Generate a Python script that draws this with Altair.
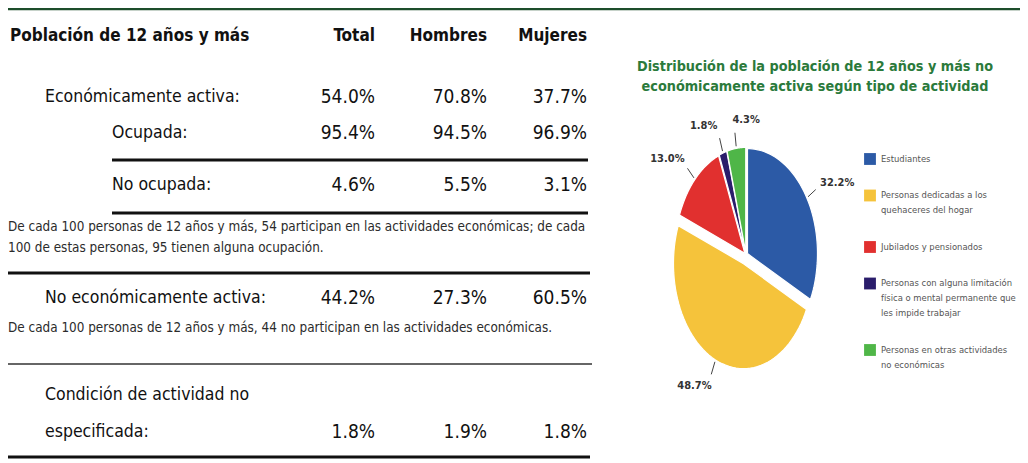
import altair as alt
import pandas as pd

# ---------------- data ----------------
encabezado = "Población de 12 años y más"
columnas = ["Total", "Hombres", "Mujeres"]
filas = [
    "Económicamente activa:",
    "Ocupada:",
    "No ocupada:",
    "No económicamente activa:",
    "Condición de actividad no\nespecificada:",
]
total = [54.0, 95.4, 4.6, 44.2, 1.8]
hombres = [70.8, 94.5, 5.5, 27.3, 1.9]
mujeres = [37.7, 96.9, 3.1, 60.5, 1.8]
nota_activa = [
    "De cada 100 personas de 12 años y más, 54 participan en las actividades económicas; de cada",
    "100 de estas personas, 95 tienen alguna ocupación.",
]
nota_no_activa = [
    "De cada 100 personas de 12 años y más, 44 no participan en las actividades económicas.",
]

titulo_pie = [
    "Distribución de la población de 12 años y más no",
    "económicamente activa según tipo de actividad",
]
tipos = [
    "Estudiantes",
    "Personas dedicadas a los\nquehaceres del hogar",
    "Jubilados y pensionados",
    "Personas con alguna limitación\nfísica o mental permanente que\nles impide trabajar",
    "Personas en otras actividades\nno económicas",
]
porcentajes = [32.2, 48.7, 13.0, 1.8, 4.3]

# ---------------- styles / layout ----------------
colores = ["#2c5aa6", "#f5c33b", "#e1302f", "#2a1d6b", "#4fb648"]
FUENTE = "DejaVu Sans Condensed, Liberation Sans Narrow, sans-serif"
M = 8  # page margin


def X(v):
    return max(v - M, 0)


def Y(v):
    return v - M


uno = pd.DataFrame({"k": [0]})
capas = []


def texto(t, x, y, size, align="left", weight="normal", color="#111", baseline="middle"):
    return alt.Chart(pd.DataFrame({"t": [t]})).mark_text(
        align=align, baseline=baseline, font=FUENTE, fontSize=size,
        fontWeight=weight, color=color,
    ).encode(x=alt.value(X(x)), y=alt.value(Y(y)), text="t:N")


def regla(x1, x2, y, w, color):
    return alt.Chart(uno).mark_rule(color=color, strokeWidth=w).encode(
        x=alt.value(X(x1)), x2=alt.value(X(x2)), y=alt.value(Y(y))
    )


# top green band
capas.append(alt.Chart(uno).mark_rule(color="#1d4d2b", strokeWidth=3.5).encode(
    x=alt.value(0), x2=alt.value(1012), y=alt.value(0.5)))

# ---------------- table ----------------
col_x = [375, 487, 587]
fila_y = [97, 133, 185, 298, 432]
fila_x = [45, 112, 112, 45, 45]
TAM_LAB = 17.5
TAM_VAL = 19
TAM_ENC = 17

capas.append(texto(encabezado, 10, 36, TAM_ENC, weight="bold"))
for c, cx in zip(columnas, col_x):
    capas.append(texto(c, cx, 36, TAM_ENC, align="right", weight="bold"))

valores = list(zip(total, hombres, mujeres))
for i, etiqueta in enumerate(filas):
    lineas = etiqueta.split("\n")
    n = len(lineas)
    for j, ln in enumerate(lineas):
        capas.append(texto(ln, fila_x[i], fila_y[i] - (n - 1 - j) * 37, TAM_LAB))
    for v, cx in zip(valores[i], col_x):
        capas.append(texto(f"{v:.1f}%", cx, fila_y[i], TAM_VAL, align="right"))

for j, ln in enumerate(nota_activa):
    capas.append(texto(ln, 2, 227 + 21 * j, 13.4, color="#2b2b2b"))
for j, ln in enumerate(nota_no_activa):
    capas.append(texto(ln, 2, 328 + 21 * j, 13.4, color="#2b2b2b"))

capas += [
    regla(112, 588, 160, 3, "#111"),
    regla(112, 588, 213, 3, "#111"),
    regla(0, 590, 273, 3, "#111"),
    regla(0, 592, 364, 2, "#666"),
    regla(0, 590, 457, 3, "#111"),
]

# ---------------- pie title ----------------
for j, ln in enumerate(titulo_pie):
    capas.append(texto(ln, 815, 67 + 20 * j, 14.3, align="center", weight="bold", color="#2b7a3b"))

# ---------------- pie (elliptical, exploded) ----------------
CX, CY, RA, RB = 746, 255, 70, 105
xs = alt.Scale(domain=[-1, 1], range=[CX - RA - M, CX + RA - M], nice=False, zero=False)
ys = alt.Scale(domain=[-1, 1], range=[CY + RB - M, CY - RB - M], nice=False, zero=False)
cs = alt.Scale(domain=tipos, range=colores)

pie_df = pd.DataFrame({"tipo": tipos, "pct": porcentajes, "orden": list(range(len(tipos)))})

base = alt.Chart(pie_df).transform_joinaggregate(
    suma="sum(pct)", maximo="max(pct)"
).transform_window(
    acum="sum(pct)", sort=[alt.SortField("orden")], frame=[None, 0]
).transform_calculate(
    a0="2*PI*(datum.acum - datum.pct)/datum.suma",
    a1="2*PI*datum.acum/datum.suma",
).transform_calculate(
    am="(datum.a0 + datum.a1)/2",
    sep="datum.pct == datum.maximo ? 0.09 : 0.025",
).transform_calculate(
    ox="datum.sep*sin(datum.am)",
    oy="datum.sep*cos(datum.am)",
)

N = 60
rebanadas = base.transform_calculate(
    paso=f"sequence(-1, {N + 2})"
).transform_flatten(["paso"]).transform_calculate(
    t=f"datum.a0 + (datum.a1 - datum.a0)*min(max(datum.paso, 0), {N})/{N}",
    rr=f"(datum.paso < 0 || datum.paso > {N}) ? 0 : 1",
).transform_calculate(
    px="datum.ox + datum.rr*sin(datum.t)",
    py="datum.oy + datum.rr*cos(datum.t)",
).mark_line(filled=True, stroke="white", strokeWidth=1.2, strokeJoin="round").encode(
    x=alt.X("px:Q", scale=xs, axis=None),
    y=alt.Y("py:Q", scale=ys, axis=None),
    color=alt.Color("tipo:N", scale=cs, legend=None),
    order=alt.Order("paso:Q"),
)

guias = base.transform_calculate(
    gx1="datum.ox + 1.02*sin(datum.am)",
    gy1="datum.oy + 1.02*cos(datum.am)",
    gx2="datum.ox + 1.15*sin(datum.am)",
    gy2="datum.oy + 1.15*cos(datum.am)",
).mark_rule(color="#444", strokeWidth=1).encode(
    x=alt.X("gx1:Q", scale=xs, axis=None),
    y=alt.Y("gy1:Q", scale=ys, axis=None),
    x2="gx2:Q",
    y2="gy2:Q",
)

etiquetas = base.transform_calculate(
    lado="sin(datum.am) > -0.2 ? 1 : -1",
).transform_calculate(
    lx="datum.ox + 1.3*sin(datum.am) + 0.18*datum.lado",
    ly="datum.oy + 1.27*cos(datum.am)",
    txt="format(datum.pct, '.1f') + '%'",
).mark_text(font=FUENTE, fontSize=11, fontWeight="bold", color="#333").encode(
    x=alt.X("lx:Q", scale=xs, axis=None),
    y=alt.Y("ly:Q", scale=ys, axis=None),
    text="txt:N",
)

capas += [rebanadas, guias, etiquetas]

# ---------------- legend ----------------
LY0, LH, GAP = 159 - M, 15, 21.5
ley = alt.Chart(pie_df).transform_calculate(
    nl="length(split(datum.tipo, '\\n'))"
).transform_window(
    acl="sum(nl)", idx="row_number()", sort=[alt.SortField("orden")], frame=[None, 0]
).transform_calculate(
    ly=f"{LY0} + {LH}*(datum.acl - datum.nl) + {GAP}*(datum.idx - 1)"
).transform_calculate(
    lyt="datum.ly - 4.5"
)

cuadros = ley.mark_square(size=140, opacity=1).encode(
    x=alt.value(870 - M),
    y=alt.Y("ly:Q", scale=None, axis=None),
    color=alt.Color("tipo:N", scale=cs, legend=None),
)
textos_ley = ley.mark_text(
    align="left", baseline="top", lineBreak="\n", lineHeight=LH,
    font=FUENTE, fontSize=9.4, color="#555",
).encode(
    x=alt.value(881 - M),
    y=alt.Y("lyt:Q", scale=None, axis=None),
    text="tipo:N",
)
capas += [cuadros, textos_ley]

chart = alt.layer(*capas).properties(
    width=1012, height=455, padding=0,
    autosize=alt.AutoSizeParams(type="none"),
    background="white",
).configure_view(stroke=None)

chart.save("out.html", embed_options={"renderer": "svg", "actions": False})
